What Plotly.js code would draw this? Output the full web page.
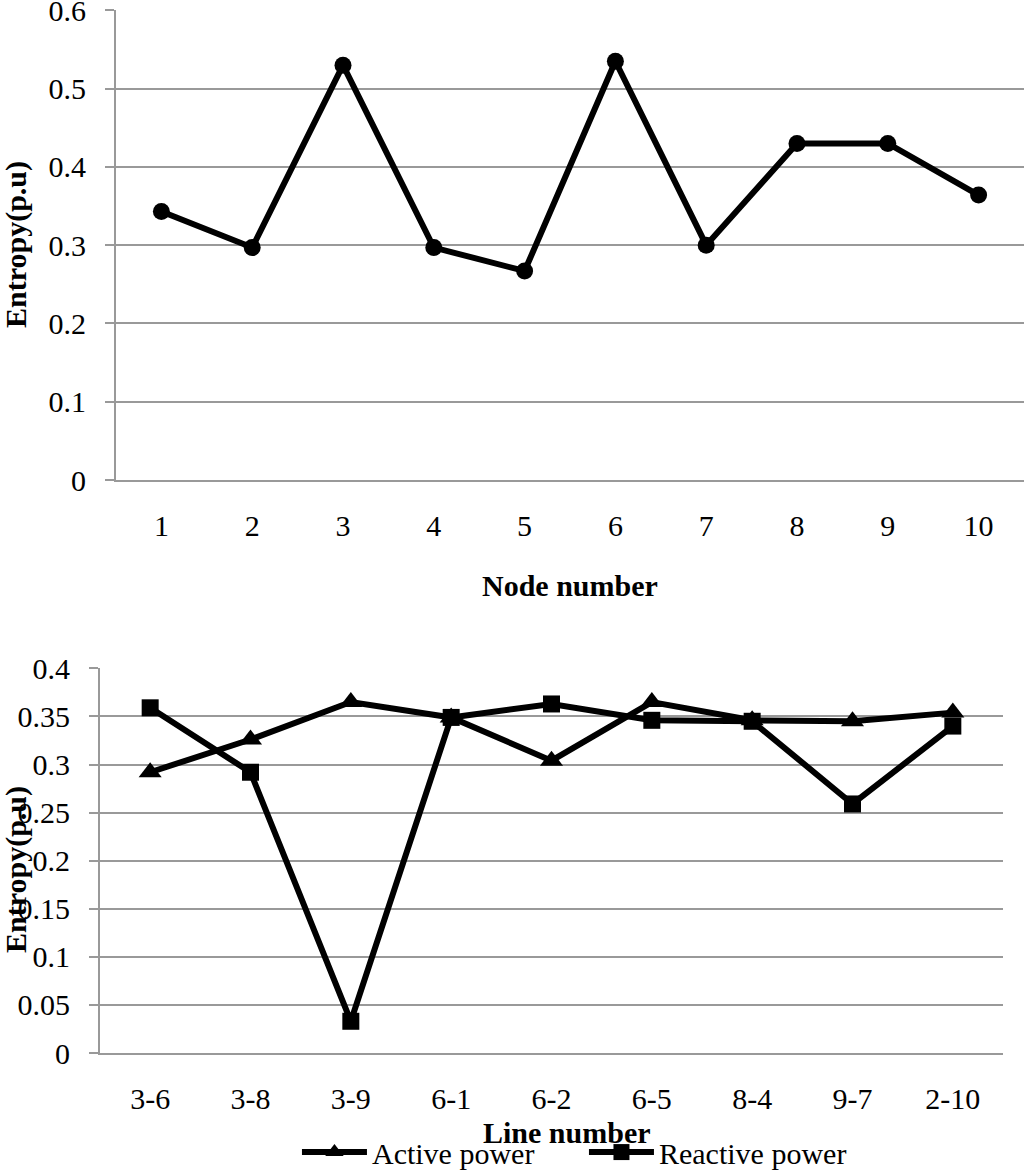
<!DOCTYPE html>
<html>
<head>
<meta charset="utf-8">
<script src="https://cdn.plot.ly/plotly-3.0.1.min.js"></script>
<style>html,body{margin:0;padding:0;background:#fff;}#chart{width:1024px;height:1172px;}</style>
</head>
<body>
<div id="chart"></div>
<script>
const nodeNumbers = ["1","2","3","4","5","6","7","8","9","10"];
const nodeEntropy = [0.343, 0.297, 0.530, 0.297, 0.267, 0.535, 0.300, 0.430, 0.430, 0.364];

const lineNumbers = ["3-6","3-8","3-9","6-1","6-2","6-5","8-4","9-7","2-10"];
const activePower = [0.292, 0.326, 0.365, 0.349, 0.304, 0.365, 0.346, 0.345, 0.354];
const reactivePower = [0.359, 0.292, 0.033, 0.349, 0.363, 0.346, 0.345, 0.259, 0.340];

const topTicks = [0, 0.1, 0.2, 0.3, 0.4, 0.5, 0.6];
const bottomTicks = [0, 0.05, 0.1, 0.15, 0.2, 0.25, 0.3, 0.35, 0.4];

const FONT = "Liberation Serif";
const GRID = "#999999";
const FS = 30;

const traces = [
  {
    x: nodeNumbers, y: nodeEntropy, type: "scatter", mode: "lines+markers",
    xaxis: "x", yaxis: "y", showlegend: false, name: "Entropy",
    line: {color: "#000", width: 6},
    marker: {symbol: "circle", size: 17, color: "#000"}
  },
  {
    x: lineNumbers, y: activePower, type: "scatter", mode: "lines+markers",
    xaxis: "x2", yaxis: "y2", name: "Active power",
    line: {color: "#000", width: 6},
    marker: {symbol: "triangle-up", size: 20, color: "#000"}
  },
  {
    x: lineNumbers, y: reactivePower, type: "scatter", mode: "lines+markers",
    xaxis: "x2", yaxis: "y2", name: "Reactive power",
    line: {color: "#000", width: 6},
    marker: {symbol: "square", size: 17, color: "#000"}
  }
];

const yCommon = {
  showgrid: true, gridcolor: GRID, gridwidth: 2,
  showline: true, linecolor: GRID, linewidth: 2,
  ticks: "outside", ticklen: 9, tickcolor: GRID, tickwidth: 2,
  zeroline: false, ticklabelstandoff: 13, ticklabeloverflow: "allow",
  tickfont: {family: FONT, size: FS, color: "#000"}
};
const xCommon = {
  type: "category", showgrid: false, showline: true, linecolor: GRID, linewidth: 2,
  ticks: "", zeroline: false, ticklabelstandoff: 18, ticklabeloverflow: "allow",
  tickfont: {family: FONT, size: FS, color: "#000"}
};

const titleFont = {family: FONT, size: FS, color: "#000"};

const layout = {
  width: 1024, height: 1172,
  margin: {l: 0, r: 0, t: 0, b: 0, autoexpand: false},
  paper_bgcolor: "#fff", plot_bgcolor: "#fff",
  font: {family: FONT, color: "#000"},
  xaxis: Object.assign({}, xCommon, {
    domain: [116/1024, 1], range: [-0.5, 9.5], anchor: "y"
  }),
  yaxis: Object.assign({}, yCommon, {
    domain: [(1172-480)/1172, (1172-10)/1172], range: [0, 0.6005], anchor: "x",
    tickvals: topTicks, ticktext: topTicks.map(v => String(v))
  }),
  xaxis2: Object.assign({}, xCommon, {
    domain: [100/1024, 1003/1024], range: [-0.5, 8.5], anchor: "y2"
  }),
  yaxis2: Object.assign({}, yCommon, {
    domain: [(1172-1053)/1172, (1172-668)/1172], range: [0, 0.4004], anchor: "x2",
    tickvals: bottomTicks, ticktext: bottomTicks.map(v => String(v))
  }),
  annotations: [
    {text: "<b>Node number</b>", xref: "paper", yref: "paper", x: 570/1024, y: (1172-585)/1172,
     xanchor: "center", yanchor: "middle", showarrow: false, font: titleFont},
    {text: "<b>Entropy(p.u)</b>", xref: "paper", yref: "paper", x: 16/1024, y: (1172-245)/1172,
     xanchor: "center", yanchor: "middle", showarrow: false, textangle: -90, font: titleFont},
    {text: "<b>Line number</b>", xref: "paper", yref: "paper", x: 567/1024, y: (1172-1132)/1172,
     xanchor: "center", yanchor: "middle", showarrow: false, font: titleFont},
    {text: "<b>Entropy(p.u)</b>", xref: "paper", yref: "paper", x: 16/1024, y: (1172-870)/1172,
     xanchor: "center", yanchor: "middle", showarrow: false, textangle: -90, font: titleFont}
  ],
  showlegend: true,
  legend: {
    orientation: "h", x: 0.29, xanchor: "left", y: 0.017, yanchor: "middle",
    font: {family: FONT, size: FS, color: "#000"},
    itemwidth: 65, entrywidth: 207, bgcolor: "rgba(0,0,0,0)", tracegroupgap: 0
  }
};

Plotly.newPlot("chart", traces, layout, {displayModeBar: false, staticPlot: true});
</script>
</body>
</html>
